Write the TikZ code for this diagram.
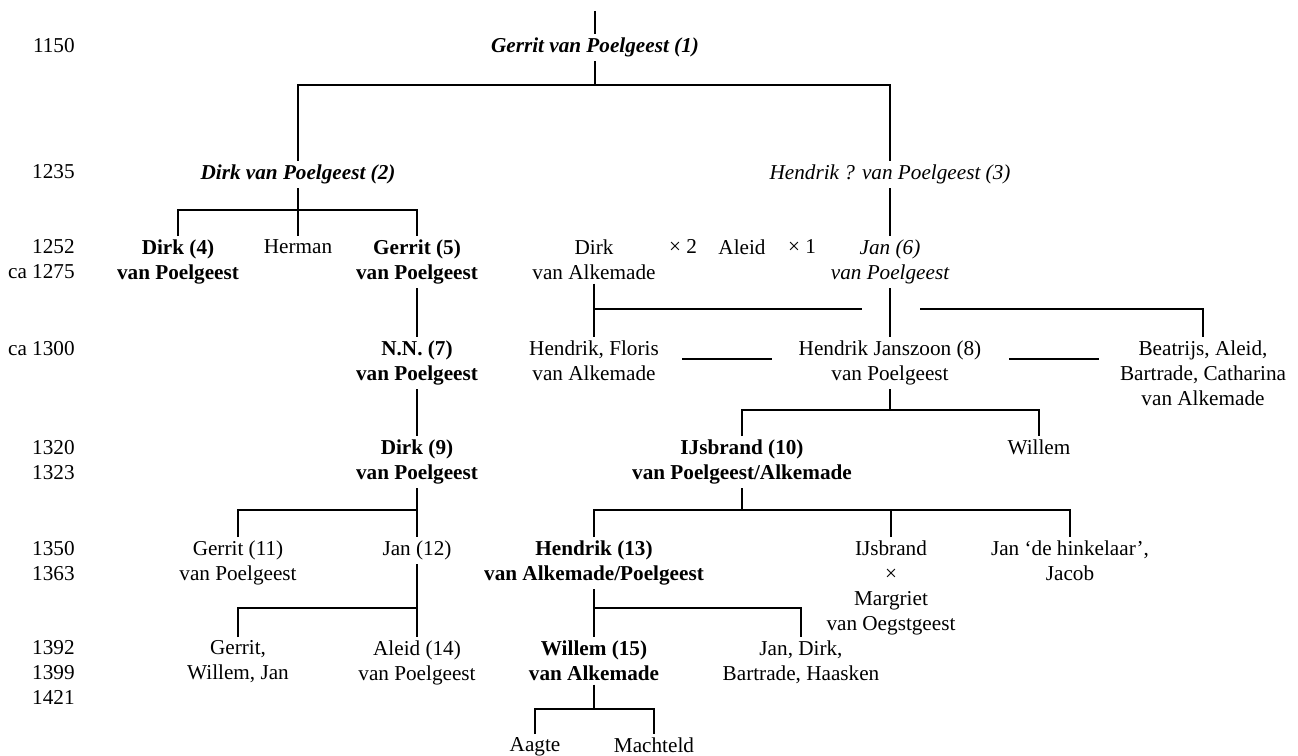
\documentclass[tikz,border=0pt]{standalone}
\usepackage{fontspec}
\setmainfont{Liberation Serif}
\usetikzlibrary{calc}
\newcommand\treefont{\fontsize{12}{14.15}\selectfont}

\begin{document}
\begin{tikzpicture}[x=0.566pt, y=-0.566pt,
    every node/.style={font=\treefont},
    person/.style={anchor=north, align=center, inner xsep=0pt, inner ysep=2pt, yshift=6.2pt},
    year/.style={person, anchor=north east, align=right},
    bold/.style={font=\treefont\bfseries},
    ital/.style={font=\treefont\itshape},
    boldital/.style={font=\treefont\bfseries\itshape},
    famline/.style={line width=1pt},
    topline/.style={line width=1.5pt}]
\useasboundingbox (0,0) rectangle (1298,756);

% years
\node[year] (y1150) at (75,45) {1150};
\node[year] (y1235) at (75,172) {1235};
\node[year] (y1252) at (75,247) {1252\\ca 1275};
\node[year] (y1300) at (75,348) {ca 1300};
\node[year] (y1320) at (75,447) {1320\\1323};
\node[year] (y1350) at (75,548) {1350\\1363};
\node[year] (y1392) at (75,648) {1392\\1399\\1421};

% people
\node[person, boldital] (gerrit1) at (595,45) {Gerrit van Poelgeest (1)};
\node[person, boldital] (dirk2) at (298,172) {Dirk van Poelgeest (2)};
\node[person, ital] (hendrik3) at (890,172) {Hendrik ? van Poelgeest (3)};
\node[person, bold] (dirk4) at (178,247) {Dirk (4)\\van Poelgeest};
\node[person] (herman) at (298,247) {Herman};
\node[person, bold] (gerrit5) at (417,247) {Gerrit (5)\\van Poelgeest};
\node[person] (dirkA) at (594,247) {Dirk\\van Alkemade};
\node[person] (times2) at (683,247) {× 2};
\node[person] (aleid) at (742,247) {Aleid};
\node[person] (times1) at (802,247) {× 1};
\node[person, ital] (jan6) at (890,247) {Jan (6)\\van Poelgeest};
\node[person, bold] (nn7) at (417,348) {N.N. (7)\\van Poelgeest};
\node[person] (hendrikF) at (594,348) {Hendrik, Floris\\van Alkemade};
\node[person] (hendrik8) at (890,348) {Hendrik Janszoon (8)\\van Poelgeest};
\node[person] (beatrijs) at (1203,348) {Beatrijs, Aleid,\\Bartrade, Catharina\\van Alkemade};
\node[person, bold] (dirk9) at (417,447) {Dirk (9)\\van Poelgeest};
\node[person, bold] (ijsbrand10) at (742,447) {IJsbrand (10)\\van Poelgeest/Alkemade};
\node[person] (willem) at (1039,447) {Willem};
\node[person] (gerrit11) at (238,548) {Gerrit (11)\\van Poelgeest};
\node[person] (jan12) at (417,548) {Jan (12)};
\node[person, bold] (hendrik13) at (594,548) {Hendrik (13)\\van Alkemade/Poelgeest};
\node[person] (ijsbrand) at (891,548) {IJsbrand\\×\\Margriet\\van Oegstgeest};
\node[person] (janH) at (1070,548) {Jan ‘de hinkelaar’,\\Jacob};
\node[person] (gerritWJ) at (238,648) {Gerrit,\\Willem, Jan};
\node[person] (aleid14) at (417,648) {Aleid (14)\\van Poelgeest};
\node[person, bold] (willem15) at (594,648) {Willem (15)\\van Alkemade};
\node[person] (janD) at (801,648) {Jan, Dirk,\\Bartrade, Haasken};
\node[person] (aagte) at (535,745) {Aagte};
\node[person] (machteld) at (654,745) {Machteld};

% junctions
\coordinate (top) at (595,11);
\coordinate (b1) at (595,85);
\coordinate (b2) at (298,210);
\coordinate (gapL) at (862,309);
\coordinate (gapR) at (920,309);
\coordinate (s1) at (682,359);
\coordinate (s2) at (772,359);
\coordinate (s3) at (1009,359);
\coordinate (s4) at (1099,359);
\coordinate (b8) at (890,410);
\coordinate (b9) at (417,510);
\coordinate (b10) at (742,510);
\coordinate (b12) at (417,608);
\coordinate (b13) at (594,608);
\coordinate (b15) at (594,709);

% lines
\draw[famline] (top) -- (gerrit1.north);
\draw[famline] (gerrit1.south) -- (b1);
\draw[topline] (dirk2.north) |- (b1) -| (hendrik3.north);
\draw[famline] (dirk2.south) -- (herman.north);
\draw[famline] (dirk4.north) |- (b2) -| (gerrit5.north);
\draw[famline] (hendrik3.south) -- (jan6.north);
\draw[famline] (jan6.south) -- (hendrik8.north);
\draw[famline] (dirkA.south) -- (hendrikF.north);
\draw[famline] (dirkA.south |- gapL) -- (gapL);
\draw[famline] (gapR) -| (beatrijs.north);
\draw[famline] (s1) -- (s2);
\draw[famline] (s3) -- (s4);
\draw[famline] (gerrit5.south) -- (nn7.north);
\draw[famline] (nn7.south) -- (dirk9.north);
\draw[famline] (hendrik8.south) -- (b8);
\draw[famline] (ijsbrand10.north) |- (b8) -| (willem.north);
\draw[famline] (dirk9.south) -- (jan12.north);
\draw[famline] (gerrit11.north) |- (b9);
\draw[famline] (ijsbrand10.south) -- (b10);
\draw[famline] (hendrik13.north) |- (b10) -| (janH.north);
\draw[famline] (ijsbrand.north) -- (ijsbrand.north |- b10);
\draw[famline] (jan12.south) -- (aleid14.north);
\draw[famline] (gerritWJ.north) |- (b12);
\draw[famline] (hendrik13.south) -- (willem15.north);
\draw[famline] (b13) -| (janD.north);
\draw[famline] (willem15.south) -- (b15);
\draw[famline] (aagte.north) |- (b15) -| (machteld.north);
\end{tikzpicture}
\end{document}
